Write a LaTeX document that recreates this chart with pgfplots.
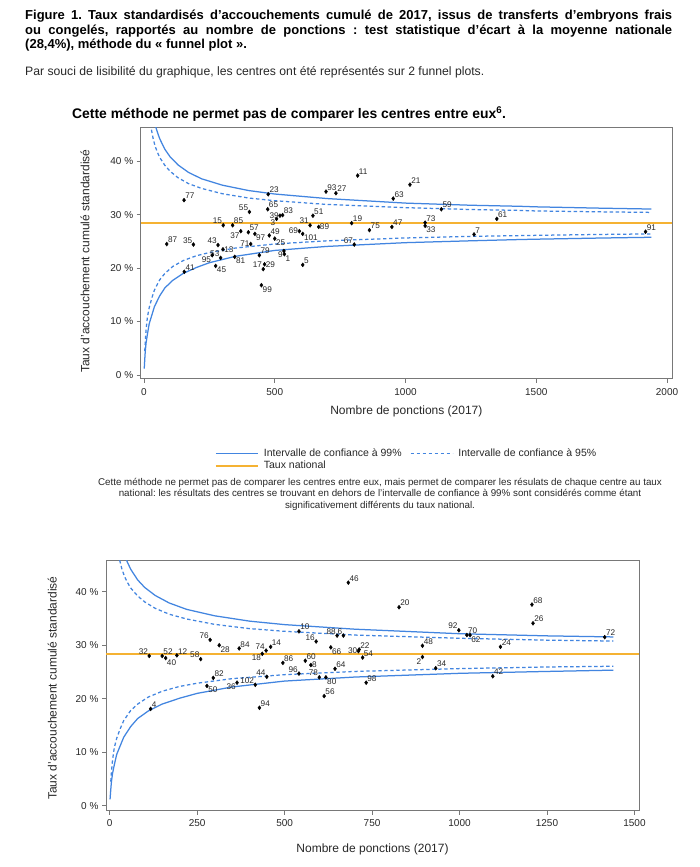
\documentclass[border=0pt]{standalone}
\usepackage{fontspec}
\setmainfont{Liberation Sans}
\usepackage{pgfplots}
\pgfplotsset{compat=1.18}
\usepackage{pgfplotstable}

\definecolor{cframe}{RGB}{120,120,120}
\definecolor{ctext}{RGB}{40,40,40}
\definecolor{cblue}{RGB}{66,133,224}
\definecolor{natorange}{RGB}{245,178,50}

% funnel limits (n, value in %)
\pgfplotstableread{
n v
22 54.2
28 51.4
35 48.9
42 46.9
50 45.6
60 44.2
80 42.2
100 40.8
130 39.3
170 37.9
220 36.7
300 35.5
400 34.5
500 33.85
700 33.0
1000 32.15
1250 31.75
1440 31.55
1500 31.45
1750 31.2
1940 31.04
}\upNN
\pgfplotstableread{
n v
22 48.1
28 46.0
35 44.2
42 42.9
50 41.8
60 40.7
80 39.2
100 38.1
130 36.9
170 35.8
220 34.9
300 33.9
400 33.1
500 32.6
700 31.9
1000 31.3
1250 30.95
1440 30.78
1500 30.68
1750 30.51
1940 30.41
}\upNF
\pgfplotstableread{
n v
1 1.2
3 3.0
5 4.5
8 6.0
13 7.6
20 9.6
30 11.2
40 12.8
60 14.8
80 16.3
110 17.7
150 19.0
200 20.1
250 21.0
350 22.2
500 23.3
700 24.05
1000 24.75
1250 25.1
1440 25.34
1500 25.4
1750 25.62
1940 25.76
}\loNN
\pgfplotstableread{
n v
3 4.5
5 6.3
8 8.5
13 10.8
20 12.6
30 14.4
40 15.9
60 17.8
80 19.0
110 20.3
150 21.4
200 22.3
250 22.9
350 23.75
500 24.5
700 25.1
1000 25.63
1250 25.93
1440 26.07
1500 26.12
1750 26.29
1940 26.39
}\loNF

\pgfplotsset{
  funnel/.style={
    scale only axis,
    axis line style={cframe, line width=1pt},
    tick style={cframe, line width=0.8pt},
    tick align=outside,
    major tick length=4pt,
    xtick pos=bottom, ytick pos=left,
    ticklabel style={font=\fontsize{10}{10}\selectfont, text=ctext},
    xticklabel style={yshift=-1.5pt},
    /pgf/number format/assume math mode=true,
    /pgf/number format/1000 sep={},
    scaled x ticks=false,
    ytick={0,10,20,30,40},
    yticklabels={0 \%,10 \%,20 \%,30 \%,40 \%},
    label style={font=\fontsize{12}{12}\selectfont, text=ctext},
    ylabel={Taux d’accouchement cumulé standardisé},
    xlabel={Nombre de ponctions (2017)},
    clip=true,
  },
  ptlab/.style={only marks, mark=diamond*, mark size=2pt, black,
    nodes near coords, point meta=explicit symbolic,
    visualization depends on={value \thisrow{anc}\as\anc},
    every node near coord/.append style={anchor=\anc,
      font=\fontsize{8.2}{8.2}\selectfont, text=ctext, inner sep=1.1pt}},
}

\begin{document}
\frenchspacing
\begin{tikzpicture}[x=1pt,y=1pt]
\path[fill=white, use as bounding box] (0,0) rectangle (699,867);

\node[anchor=north west, inner sep=0pt, text width=647pt, align=justify,
  font=\bfseries\fontsize{13}{14.5}\selectfont] at (25,857)
  {Figure 1. Taux standardisés d’accouchements cumulé de 2017, issus de transferts d’embryons frais\linebreak
   ou congelés, rapportés au nombre de ponctions : test statistique d’écart à la moyenne nationale\linebreak
   (28,4\%), méthode du «~funnel plot~».};

\node[anchor=base west, inner sep=0pt, font=\fontsize{12.2}{14}\selectfont, text=ctext] at (25,791)
  {Par souci de lisibilité du graphique, les centres ont été représentés sur 2 funnel plots.};

\node[anchor=base west, inner sep=0pt, font=\bfseries\fontsize{13.9}{16}\selectfont] at (72,748)
  {Cette méthode ne permet pas de comparer les centres entre eux\textsuperscript{6}.};

% ---------- plot 1 ----------
\begin{axis}[funnel,
  at={(140.7pt,488pt)}, anchor=south west,
  width=531.3pt, height=251pt,
  xmin=-12.6, xmax=2019, ymin=-0.75, ymax=46.2,
  xtick={0,500,1000,1500,2000},
  ylabel style={at={(axis description cs:-0.105,0.47)}, anchor=center},
  xlabel style={at={(axis description cs:0.5,-0.131)}, anchor=center},
  legend columns=2,
  legend cell align=left,
  legend style={at={(axis description cs:0.134,-0.262)}, anchor=north west,
    draw=none, fill=none, font=\fontsize{10.5}{12}\selectfont,
    /tikz/every even column/.append style={column sep=6pt},
    /tikz/every odd column/.append style={column sep=3pt},
    row sep=-1pt},
  legend image code/.code={\draw[#1, line width=1.8pt] (0pt,0pt) -- (42pt,0pt);},
]
\addplot[color=cblue, line width=1.25pt] table[x=n,y=v]{\upNN};
\addlegendentry{\textcolor{ctext}{Intervalle de confiance à 99\%}}
\addplot[color=cblue, line width=1.25pt, dash pattern=on 3.4pt off 2.6pt] table[x=n,y=v]{\upNF};
\addlegendentry{\textcolor{ctext}{Intervalle de confiance à 95\%}}
\addplot[color=natorange, line width=1.5pt] coordinates {(-12.6,28.4) (2019,28.4)};
\addlegendentry{\textcolor{ctext}{Taux national}}
\addplot[color=cblue, line width=1.25pt, forget plot] table[x=n,y=v]{\loNN};
\addplot[color=cblue, line width=1.25pt, dash pattern=on 3.4pt off 2.6pt, forget plot] table[x=n,y=v]{\loNF};
\addplot[ptlab, forget plot] table[x=n,y=y,meta=lab,col sep=comma]{
n,y,lab,anc
153,32.7,77,south west
475,33.8,23,south west
696,34.3,93,south west
734,34.0,27,south west
817,37.3,11,south west
1017,35.6,21,south west
953,33.0,63,south west
1137,31.0,59,south west
403,30.5,55,south east
473,31.0,65,south west
507,29.2,3,north east
520,29.8,39,east
530,29.9,83,south west
303,28.0,15,south east
339,28.0,85,south west
635,28.0,31,south east
646,29.8,51,south west
668,27.7,89,west
794,28.4,19,south west
862,27.1,75,south west
948,27.7,47,south west
1075,28.5,73,south west
1075,27.9,33,north west
1349,29.2,61,south west
1262,26.3,7,south west
1918,26.8,91,south west
399,26.7,57,south west
370,26.9,37,north east
479,26.1,49,south west
424,26.4,97,north west
408,24.5,71,east
500,25.5,25,north west
594,26.9,69,east
607,26.4,101,north west
804,24.4,67,south east
87,24.5,87,south west
189,24.4,35,south east
283,24.3,43,south east
302,23.5,13,west
293,21.9,53,south east
261,22.4,95,north east
347,22.1,81,north west
274,20.4,45,north west
154,19.3,41,south west
441,22.4,79,south west
535,23.2,9,north east
537,22.6,1,north west
456,19.8,17,south east
461,20.7,29,west
449,16.8,99,north west
607,20.6,5,south west
};
\end{axis}

\node[align=center, font=\fontsize{9.8}{11.5}\selectfont, text=ctext] at (380,373)
  {Cette méthode ne permet pas de comparer les centres entre eux, mais permet de comparer les résulats de chaque centre au taux\\
   national: les résultats des centres se trouvant en dehors de l'intervalle de confiance à 99\% sont considérés comme étant\\
   significativement différents du taux national.};

% ---------- plot 2 ----------
\begin{axis}[funnel,
  at={(106pt,56.3pt)}, anchor=south west,
  width=533pt, height=250pt,
  xmin=-10.6, xmax=1513, ymin=-0.93, ymax=45.8,
  xtick={0,250,500,750,1000,1250,1500},
  ylabel style={at={(axis description cs:-0.101,0.49)}, anchor=center},
  xlabel style={at={(axis description cs:0.5,-0.153)}, anchor=center},
]
\addplot[color=cblue, line width=1.25pt, restrict x to domain=0:1440] table[x=n,y=v]{\upNN};
\addplot[color=cblue, line width=1.25pt, dash pattern=on 3.4pt off 2.6pt, restrict x to domain=0:1440] table[x=n,y=v]{\upNF};
\addplot[color=natorange, line width=1.5pt] coordinates {(-10.6,28.4) (1513,28.4)};
\addplot[color=cblue, line width=1.25pt, restrict x to domain=0:1440] table[x=n,y=v]{\loNN};
\addplot[color=cblue, line width=1.25pt, dash pattern=on 3.4pt off 2.6pt, restrict x to domain=0:1440] table[x=n,y=v]{\loNF};
\addplot[ptlab] table[x=n,y=y,meta=lab,col sep=comma]{
n,y,lab,anc
287,31.0,76,south east
313,30.0,28,north west
370,29.4,84,south west
447,29.0,74,south east
460,29.7,14,south west
436,28.4,18,north east
113,28.0,32,south east
150,28.0,52,south west
160,27.6,40,north west
192,28.1,12,south west
260,27.4,58,south east
495,26.7,86,south west
541,24.7,96,south east
296,23.9,82,south west
449,24.1,44,south east
364,23.0,36,north east
416,22.6,102,south east
278,22.4,50,north west
117,18.1,4,south west
428,18.3,94,south west
682,41.7,46,south west
827,37.1,20,south west
541,32.6,10,south west
650,31.8,88,south east
668,31.8,6,south east
590,30.7,16,south east
711,28.9,30,east
713,29.2,22,south west
723,27.7,54,south west
632,29.6,66,north west
559,27.1,60,south west
575,26.3,8,west
644,25.6,64,south west
599,24.0,78,south east
618,24.0,80,north west
613,20.5,56,south west
733,23.0,98,south west
894,29.9,48,south west
894,27.8,2,north east
932,25.7,34,south west
998,32.8,92,south east
1021,31.9,70,south west
1030,31.9,62,north west
1117,29.7,24,south west
1207,37.6,68,south west
1210,34.1,26,south west
1415,31.5,72,south west
1095,24.2,42,south west
};
\end{axis}
\end{tikzpicture}
\end{document}
